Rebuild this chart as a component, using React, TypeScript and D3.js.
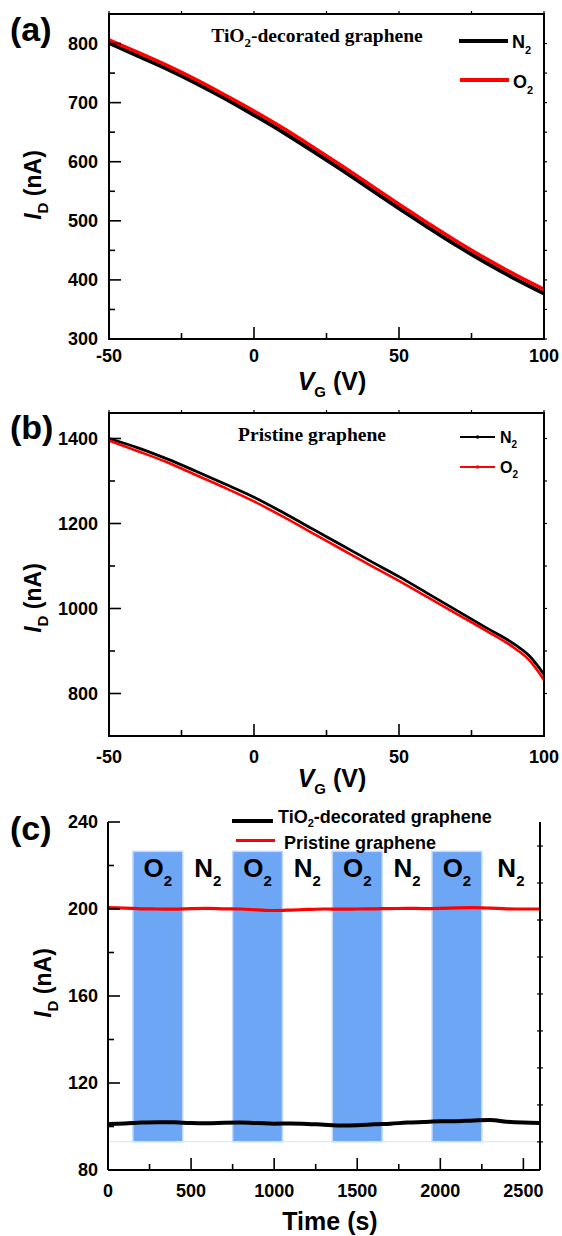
import React from 'react';
import * as d3 from 'd3';

const FONT = "'Liberation Sans', Arial, sans-serif";
const SERIF = "'Liberation Serif', 'Times New Roman', serif";

// Panel (a): TiO2-decorated graphene transfer curves
const vgA = [-50, -40, -30, -20, -10, 0, 10, 20, 30, 40, 50, 60, 70, 80, 90, 100];
const tioN2 = [801, 779, 757, 733, 707, 679, 650, 619, 587, 554, 521, 489, 458, 429, 402, 377];
const tioO2 = [806, 785, 763, 739, 713, 686, 657, 626, 594, 561, 528, 496, 465, 436, 409, 384];

// Panel (b): pristine graphene transfer curves
const vgB = [-50, -40, -30, -20, -10, 0, 10, 20, 30, 40, 50, 60, 70, 80, 90, 95, 100];
const priN2 = [1400, 1378, 1352, 1323, 1293, 1262, 1226, 1188, 1150, 1112, 1075, 1035, 995, 955, 915, 888, 845];
const priO2 = [1395, 1370, 1344, 1314, 1284, 1252, 1216, 1178, 1140, 1102, 1065, 1026, 987, 948, 906, 878, 832];

// Panel (c): time response
const timeC = [0, 100, 200, 300, 400, 500, 600, 700, 800, 900, 1000, 1100, 1200, 1300, 1400, 1500, 1600, 1700, 1800, 1900, 2000, 2100, 2200, 2300, 2400, 2500, 2600];
const tioTime = [101.2, 101.4, 101.8, 102.0, 101.9, 101.6, 101.5, 101.7, 101.8, 101.6, 101.3, 101.4, 101.2, 100.8, 100.5, 100.6, 101.0, 101.3, 101.8, 102.1, 102.4, 102.4, 102.8, 103.0, 102.2, 101.8, 101.6];
const priTime = [200.6, 200.4, 200.1, 200.0, 199.9, 200.2, 200.3, 200.1, 200.0, 199.6, 199.3, 199.5, 199.8, 200.0, 199.9, 200.0, 200.1, 200.2, 200.3, 200.2, 200.3, 200.5, 200.6, 200.4, 200.1, 200.0, 200.0];
const o2Start = [150, 750, 1350, 1950];
const o2End = [450, 1050, 1650, 2250];
const n2Start = [450, 1050, 1650, 2250];
const n2End = [750, 1350, 1950, 2600];
const bandLow = 93;
const bandHigh = 226.5;

// Ticks
const vgMajor = [-50, 0, 50, 100];
const vgMinor = [-25, 25, 75];
const aYMajor = [300, 400, 500, 600, 700, 800];
const aYMinor = [350, 450, 550, 650, 750];
const bYMajor = [800, 1000, 1200, 1400];
const bYMinor = [900, 1100, 1300];
const cXMajor = [0, 500, 1000, 1500, 2000, 2500];
const cXMinor = [250, 750, 1250, 1750, 2250];
const cYMajor = [80, 120, 160, 200, 240];
const cYMinor = [100, 140, 180, 220];
const cRightTicks = [1, 2, 3, 4, 5, 6, 7, 8, 9];

type Sc = d3.ScaleLinear<number, number>;

function YTitle({ x, y }: { x: number; y: number }) {
  return (
    <text transform={`translate(${x},${y}) rotate(-90)`} textAnchor="middle" fontFamily={FONT} fontWeight="bold" fontSize={23}>
      <tspan fontStyle="italic">I</tspan>
      <tspan fontSize={15} dy={7}>D</tspan>
      <tspan dy={-7}> (nA)</tspan>
    </text>
  );
}

function VGTitle({ x, y }: { x: number; y: number }) {
  return (
    <text x={x} y={y} textAnchor="middle" fontFamily={FONT} fontWeight="bold" fontSize={25}>
      <tspan fontStyle="italic">V</tspan>
      <tspan fontSize={15} dy={7}>G</tspan>
      <tspan dy={-7}> (V)</tspan>
    </text>
  );
}

function FramedAxes({ x, y, yMajor, yMinor, labelY }: { x: Sc; y: Sc; yMajor: number[]; yMinor: number[]; labelY: number }) {
  const [x0, x1] = x.range();
  const [y0, y1] = y.range();
  return (
    <g>
      {vgMajor.map((v) => (
        <g key={'xm' + v}>
          <line x1={x(v)} x2={x(v)} y1={y0} y2={y0 - 12} stroke="#000" strokeWidth={1.6} />
          <line x1={x(v)} x2={x(v)} y1={y1} y2={y1 - 3} stroke="#000" strokeWidth={1.2} />
          <text x={x(v)} y={labelY} textAnchor="middle" fontFamily={FONT} fontWeight="bold" fontSize={18}>{v}</text>
        </g>
      ))}
      {vgMinor.map((v) => (
        <g key={'xn' + v}>
          <line x1={x(v)} x2={x(v)} y1={y0} y2={y0 - 6} stroke="#000" strokeWidth={1.6} />
          <line x1={x(v)} x2={x(v)} y1={y1} y2={y1 - 3} stroke="#000" strokeWidth={1.2} />
        </g>
      ))}
      {yMajor.map((v) => (
        <g key={'ym' + v}>
          <line x1={x0} x2={x0 + 12} y1={y(v)} y2={y(v)} stroke="#000" strokeWidth={1.6} />
          <line x1={x1} x2={x1 + 3} y1={y(v)} y2={y(v)} stroke="#000" strokeWidth={1.2} />
          <text x={98} y={y(v)} dy="0.36em" textAnchor="end" fontFamily={FONT} fontWeight="bold" fontSize={18}>{v}</text>
        </g>
      ))}
      {yMinor.map((v) => (
        <g key={'yn' + v}>
          <line x1={x0} x2={x0 + 6} y1={y(v)} y2={y(v)} stroke="#000" strokeWidth={1.6} />
          <line x1={x1} x2={x1 + 3} y1={y(v)} y2={y(v)} stroke="#000" strokeWidth={1.2} />
        </g>
      ))}
      <rect x={x0} y={y1} width={x1 - x0} height={y0 - y1} fill="none" stroke="#000" strokeWidth={2} />
    </g>
  );
}

export default function App() {
  const xA = d3.scaleLinear().domain([-50, 100]).range([109, 544]);
  const yA = d3.scaleLinear().domain([300, 850]).range([339, 14]);
  const lineA = d3.line<number>().x((_, i) => xA(vgA[i])).y((d) => yA(d)).curve(d3.curveMonotoneX);

  const xB = d3.scaleLinear().domain([-50, 100]).range([109, 544]);
  const yB = d3.scaleLinear().domain([700, 1460]).range([736, 413]);
  const lineB = d3.line<number>().x((_, i) => xB(vgB[i])).y((d) => yB(d)).curve(d3.curveMonotoneX);

  const xC = d3.scaleLinear().domain([0, 2600]).range([108, 540]);
  const yC = d3.scaleLinear().domain([80, 240]).range([1170, 822]);
  const yCR = d3.scaleLinear().domain([0.24, 9.65]).range([1170, 822]);
  const lineC = d3.line<number>().x((_, i) => xC(timeC[i])).y((d) => yC(d)).curve(d3.curveMonotoneX);

  return (
    <svg width={562} height={1236} style={{ position: 'absolute', left: 0, top: 0, background: '#fff' }}>
      <rect x={0} y={0} width={562} height={1236} fill="#fff" />

      {/* ---------- Panel (a) ---------- */}
      <text x={10} y={41} fontFamily={FONT} fontWeight="bold" fontSize={34}>(a)</text>
      <path d={lineA(tioN2) || ''} fill="none" stroke="#000" strokeWidth={4} />
      <path d={lineA(tioO2) || ''} fill="none" stroke="#f00" strokeWidth={3.5} />
      <FramedAxes x={xA} y={yA} yMajor={aYMajor} yMinor={aYMinor} labelY={362} />
      <text x={317} y={42} textAnchor="middle" fontFamily={SERIF} fontWeight="bold" fontSize={19.5}>
        TiO<tspan fontSize={13} dy={5}>2</tspan><tspan dy={-5}>-decorated graphene</tspan>
      </text>
      <line x1={459} x2={508} y1={41} y2={41} stroke="#000" strokeWidth={4} />
      <text x={512} y={48} fontFamily={FONT} fontWeight="bold" fontSize={18}>N<tspan fontSize={11} dy={6}>2</tspan></text>
      <line x1={460} x2={509} y1={80} y2={80} stroke="#f00" strokeWidth={4} />
      <text x={513} y={88} fontFamily={FONT} fontWeight="bold" fontSize={18}>O<tspan fontSize={11} dy={6}>2</tspan></text>
      <YTitle x={41} y={185} />
      <VGTitle x={332} y={390} />

      {/* ---------- Panel (b) ---------- */}
      <text x={10} y={439} fontFamily={FONT} fontWeight="bold" fontSize={34}>(b)</text>
      <path d={lineB(priN2) || ''} fill="none" stroke="#000" strokeWidth={2.8} />
      <path d={lineB(priO2) || ''} fill="none" stroke="#f00" strokeWidth={2.6} />
      <FramedAxes x={xB} y={yB} yMajor={bYMajor} yMinor={bYMinor} labelY={763} />
      <text x={312} y={441} textAnchor="middle" fontFamily={SERIF} fontWeight="bold" fontSize={19.5}>Pristine graphene</text>
      <line x1={460} x2={495} y1={437} y2={437} stroke="#000" strokeWidth={2} />
      <circle cx={477.5} cy={437} r={1.8} fill="#000" />
      <text x={500} y={443} fontFamily={FONT} fontWeight="bold" fontSize={16}>N<tspan fontSize={10} dy={5}>2</tspan></text>
      <line x1={460} x2={495} y1={467} y2={467} stroke="#f00" strokeWidth={2} />
      <circle cx={477.5} cy={467} r={1.8} fill="#f00" />
      <text x={500} y={473} fontFamily={FONT} fontWeight="bold" fontSize={16}>O<tspan fontSize={10} dy={5}>2</tspan></text>
      <YTitle x={41} y={598} />
      <VGTitle x={332} y={787} />

      {/* ---------- Panel (c) ---------- */}
      <text x={10} y={840} fontFamily={FONT} fontWeight="bold" fontSize={34}>(c)</text>
      {o2Start.map((s, i) => (
        <rect key={'o' + i} x={xC(s)} y={yC(bandHigh)} width={xC(o2End[i]) - xC(s)} height={yC(bandLow) - yC(bandHigh)}
          fill="#6ea6f6" stroke="#c4daf9" strokeWidth={1.5} />
      ))}
      <line x1={xC(0)} x2={xC(2600)} y1={yC(bandLow)} y2={yC(bandLow)} stroke="#d6e5fb" strokeWidth={1.2} />
      {o2Start.map((s, i) => (
        <text key={'ot' + i} x={xC((s + o2End[i]) / 2)} y={877} textAnchor="middle" fontFamily={FONT} fontWeight="bold" fontSize={26}>
          O<tspan fontSize={15} dy={9}>2</tspan>
        </text>
      ))}
      {n2Start.map((s, i) => (
        <text key={'nt' + i} x={xC((s + n2End[i]) / 2)} y={877} textAnchor="middle" fontFamily={FONT} fontWeight="bold" fontSize={26}>
          N<tspan fontSize={15} dy={9}>2</tspan>
        </text>
      ))}
      <path d={lineC(priTime) || ''} fill="none" stroke="#f00" strokeWidth={3.2} />
      <path d={lineC(tioTime) || ''} fill="none" stroke="#000" strokeWidth={4} />

      <line x1={108} x2={108} y1={yC(240)} y2={yC(80)} stroke="#000" strokeWidth={2} />
      <line x1={540} x2={540} y1={yC(240)} y2={yC(80)} stroke="#000" strokeWidth={2} />
      <line x1={108} x2={540} y1={yC(80)} y2={yC(80)} stroke="#000" strokeWidth={2} />
      {cXMajor.map((v) => (
        <g key={'cx' + v}>
          <line x1={xC(v)} x2={xC(v)} y1={yC(80)} y2={yC(80) - 12} stroke="#000" strokeWidth={1.6} />
          <text x={xC(v)} y={1197} textAnchor="middle" fontFamily={FONT} fontWeight="bold" fontSize={18}>{v}</text>
        </g>
      ))}
      {cXMinor.map((v) => (
        <line key={'cxn' + v} x1={xC(v)} x2={xC(v)} y1={yC(80)} y2={yC(80) - 6} stroke="#000" strokeWidth={1.6} />
      ))}
      {cYMajor.map((v) => (
        <g key={'cy' + v}>
          <line x1={108} x2={120} y1={yC(v)} y2={yC(v)} stroke="#000" strokeWidth={1.6} />
          <text x={98} y={yC(v)} dy="0.36em" textAnchor="end" fontFamily={FONT} fontWeight="bold" fontSize={18}>{v}</text>
        </g>
      ))}
      {cYMinor.map((v) => (
        <line key={'cyn' + v} x1={108} x2={114} y1={yC(v)} y2={yC(v)} stroke="#000" strokeWidth={1.6} />
      ))}
      {cRightTicks.map((v) => (
        <line key={'cr' + v} x1={537} x2={543} y1={yCR(v)} y2={yCR(v)} stroke="#000" strokeWidth={1.2} />
      ))}
      <line x1={232} x2={273} y1={821} y2={821} stroke="#000" strokeWidth={4} />
      <line x1={236} x2={275} y1={840.5} y2={840.5} stroke="#f00" strokeWidth={3} />
      <text x={278} y={823} fontFamily={FONT} fontWeight="bold" fontSize={18}>
        TiO<tspan fontSize={11} dy={4}>2</tspan><tspan dy={-4}>-decorated graphene</tspan>
      </text>
      <text x={284} y={849} fontFamily={FONT} fontWeight="bold" fontSize={18}>Pristine graphene</text>
      <YTitle x={51} y={983} />
      <text x={330} y={1230} textAnchor="middle" fontFamily={FONT} fontWeight="bold" fontSize={25}>Time (s)</text>
    </svg>
  );
}
